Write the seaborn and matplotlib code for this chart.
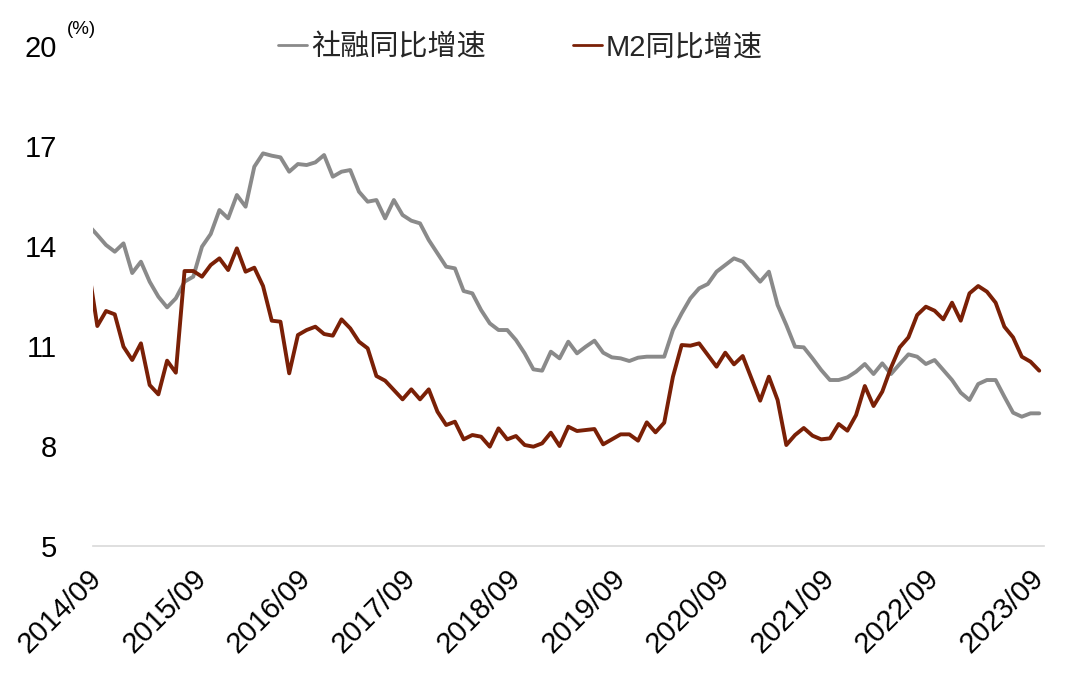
import numpy as np
import pandas as pd
import matplotlib
matplotlib.use("Agg")
import matplotlib.pyplot as plt
import seaborn as sns

# ---- data ----
months = list(pd.period_range("2014-08", "2023-09", freq="M").strftime("%Y/%m"))

tsf_growth = [14.62, 14.33, 14.03, 13.83, 14.08, 13.19, 13.53, 12.93, 12.48, 12.16,
              12.43, 12.93, 13.08, 13.98, 14.36, 15.08, 14.83, 15.53, 15.18, 16.38,
              16.78, 16.71, 16.66, 16.23, 16.46, 16.43, 16.51, 16.73, 16.08, 16.23,
              16.28, 15.63, 15.33, 15.38, 14.83, 15.38, 14.93, 14.76, 14.68, 14.18,
              13.78, 13.38, 13.33, 12.65, 12.58, 12.08, 11.68, 11.48, 11.48, 11.18,
              10.78, 10.30, 10.26, 10.83, 10.63, 11.13, 10.78, 10.98, 11.16, 10.80,
              10.66, 10.63, 10.55, 10.65, 10.68, 10.68, 10.68, 11.48, 11.98, 12.43,
              12.73, 12.86, 13.23, 13.43, 13.63, 13.53, 13.23, 12.93, 13.23, 12.23,
              11.63, 10.98, 10.96, 10.63, 10.28, 9.98, 9.98, 10.06, 10.23, 10.46,
              10.16, 10.48, 10.16, 10.46, 10.75, 10.68, 10.46, 10.58, 10.28, 9.98,
              9.60, 9.38, 9.86, 9.98, 9.98, 9.48, 9.00, 8.88, 8.98, 8.98]

m2_growth = [13.30, 11.60, 12.05, 11.95, 10.98, 10.58, 11.08, 9.83, 9.55, 10.56,
             10.20, 13.25, 13.25, 13.08, 13.43, 13.63, 13.28, 13.93, 13.23, 13.35,
             12.80, 11.76, 11.73, 10.18, 11.33, 11.48, 11.58, 11.36, 11.31, 11.80,
             11.53, 11.13, 10.93, 10.10, 9.96, 9.68, 9.40, 9.70, 9.40, 9.70,
             9.03, 8.63, 8.73, 8.20, 8.33, 8.28, 7.98, 8.53, 8.20, 8.30,
             8.03, 7.98, 8.08, 8.40, 8.00, 8.58, 8.45, 8.48, 8.51, 8.05,
             8.20, 8.35, 8.35, 8.16, 8.71, 8.41, 8.70, 10.08, 11.03, 11.01,
             11.08, 10.73, 10.38, 10.80, 10.45, 10.70, 10.03, 9.36, 10.08, 9.38,
             8.03, 8.33, 8.54, 8.31, 8.20, 8.23, 8.66, 8.46, 8.93, 9.80,
             9.20, 9.63, 10.35, 10.96, 11.26, 11.93, 12.18, 12.06, 11.80, 12.30,
             11.76, 12.58, 12.80, 12.63, 12.30, 11.58, 11.26, 10.68, 10.53, 10.26]

series_names = ["社融同比增速", "M2同比增速"]
tick_labels = ["2014/09", "2015/09", "2016/09", "2017/09", "2018/09",
               "2019/09", "2020/09", "2021/09", "2022/09", "2023/09"]
y_ticks = [5, 8, 11, 14, 17, 20]

# ---- frame ----
df = pd.DataFrame({"month": months, "idx": np.arange(len(months)),
                   series_names[0]: tsf_growth, series_names[1]: m2_growth})
long = df.melt(id_vars=["month", "idx"], value_vars=series_names,
               var_name="series", value_name="value")

sns.set_theme(style="white")
plt.rcParams["font.family"] = ["Liberation Sans", "Noto Sans CJK SC", "DejaVu Sans"]

colors = {series_names[0]: "#8a8a8a", series_names[1]: "#7a2006"}

fig = plt.figure(figsize=(10.8, 6.76), dpi=100)
ax = fig.add_axes([0.0864, 0.1923, 0.8799, 0.7396])

sns.lineplot(data=long, x="idx", y="value", hue="series", hue_order=series_names,
             palette=colors, linewidth=2.8, ax=ax, legend=False)

ax.set_xlim(0.54, 109.5)
ax.set_ylim(5, 20)
ax.set_yticks(y_ticks)
ax.set_yticklabels([str(v) for v in y_ticks])
tick_pos = [months.index(l) for l in tick_labels]
ax.set_xticks(tick_pos)
ax.set_xticklabels(tick_labels, rotation=45, ha="right", va="center",
                   rotation_mode="anchor")
ax.tick_params(axis="x", length=0, pad=20, labelsize=21, labelcolor="black")
ax.tick_params(axis="y", length=0, pad=26, labelsize=21, labelcolor="black")
ax.set_xlabel("")
ax.set_ylabel("")
ax.grid(False)
for s in ["top", "right", "left"]:
    ax.spines[s].set_visible(False)
ax.spines["bottom"].set_color("#d9d9d9")
ax.spines["bottom"].set_linewidth(1.2)

fig.text(0.075, 0.957, "(%)", fontsize=13.5, color="black", ha="center", va="center")

handles = [plt.Line2D([], [], color=colors[n], linewidth=2.0) for n in series_names]
fig.legend(handles, series_names, loc="center", bbox_to_anchor=(0.482, 0.930),
           ncol=2, frameon=False, fontsize=21, handlelength=1.0,
           handletextpad=0.12, columnspacing=3.0, borderaxespad=0)

fig.savefig("out.png", dpi=100)
